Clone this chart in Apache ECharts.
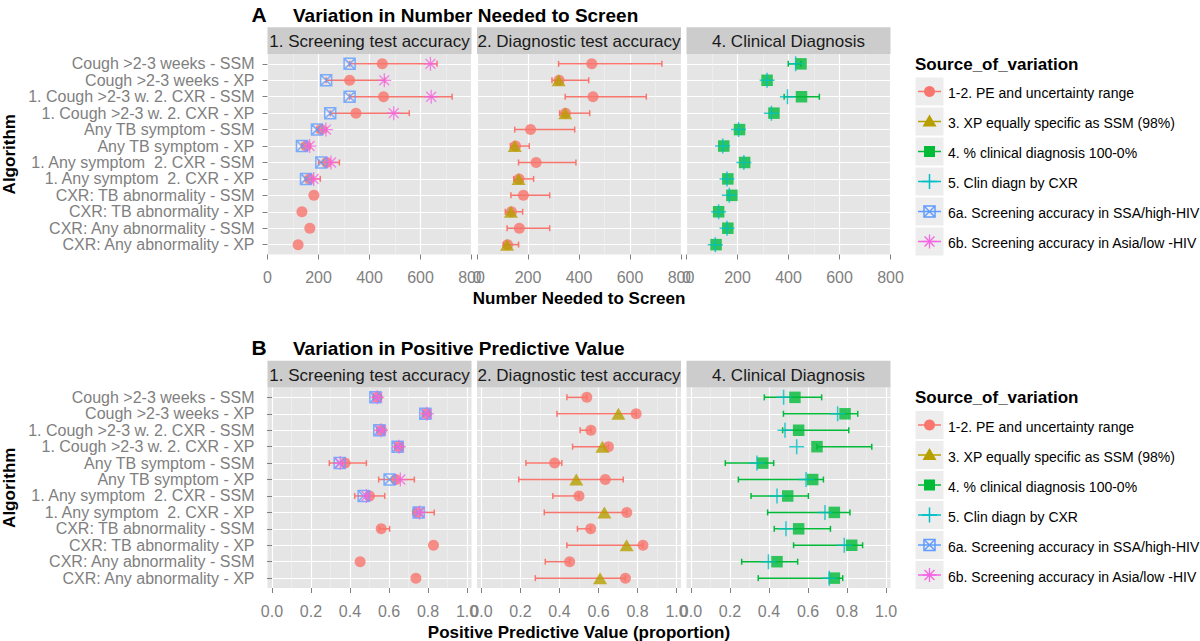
<!DOCTYPE html>
<html><head><meta charset="utf-8">
<script src="https://cdn.jsdelivr.net/npm/echarts@6/dist/echarts.min.js"></script>
<style>html,body{margin:0;padding:0;background:#fff}#c{width:1200px;height:641px}</style>
</head><body><div id="c"></div>
<script>
// ---------------- data ----------------
const algorithms = [
  'Cough >2-3 weeks - SSM', 'Cough >2-3 weeks - XP',
  '1. Cough >2-3 w. 2. CXR - SSM', '1. Cough >2-3 w. 2. CXR - XP',
  'Any TB symptom - SSM', 'Any TB symptom - XP',
  '1. Any symptom  2. CXR - SSM', '1. Any symptom  2. CXR - XP',
  'CXR: TB abnormality - SSM', 'CXR: TB abnormality - XP',
  'CXR: Any abnormality - SSM', 'CXR: Any abnormality - XP'
];
const facetNames = ['1. Screening test accuracy', '2. Diagnostic test accuracy', '4. Clinical Diagnosis'];
const sources = [
  '1-2. PE and uncertainty range',
  '3. XP equally specific as SSM (98%)',
  '4. % clinical diagnosis 100-0%',
  '5. Clin diagn by CXR',
  '6a. Screening accuracy in SSA/high-HIV',
  '6b. Screening accuracy in Asia/low -HIV'
];
const nnsTicks = [0, 200, 400, 600, 800];
const nnsMinor = [100, 300, 500, 700];
const ppvTicks = [0, 0.2, 0.4, 0.6, 0.8, 1.0];
const ppvMinor = [0.1, 0.3, 0.5, 0.7, 0.9];

// Panel A: Number needed to screen
const nnsPE         = [450, 322, 455, 347, 210, 151, 232, 165, 182, 135, 166, 120];
const nnsScreenLow  = [322, 230, 322, 246, 194, 135, 200, 150, null, null, null, null];
const nnsScreenHigh = [665, 460, 724, 556, 232, 168, 282, 207, null, null, null, null];
const nnsSSA        = [322, 230, 322, 246, 194, 135, 211, 151, null, null, null, null];
const nnsAsia       = [639, 458, 642, 495, 229, 165, 249, 181, null, null, null, null];
const nnsDiagLow    = [320, 294, 346, 324, 148, 131, 163, 144, 133, 111, 118, 104];
const nnsDiagHigh   = [725, 438, 664, 442, 383, 205, 388, 222, 285, 179, 285, 163];
const nnsXPspec     = [null, 320, null, 346, null, 148, null, 163, null, 133, null, 118];
const nnsClin       = [449, 316, 451, 343, 208, 146, 228, 162, 178, 126, 162, 116];
const nnsClinLow    = [399, null, 383, null, null, null, null, null, null, null, null, null];
const nnsClinHigh   = [449, null, 521, null, null, null, null, null, null, null, null, null];
const nnsClinCXR    = [428, 316, 396, 333, 204, 142, 225, 159, 168, 126, 159, 113];

// Panel B: Positive predictive value
const ppvPE         = [0.54, 0.793, 0.561, 0.651, 0.375, 0.635, 0.50, 0.745, 0.56, 0.828, 0.452, 0.738];
const ppvScreenLow  = [0.52, 0.775, 0.54, 0.63, 0.294, 0.547, 0.424, 0.726, 0.55, null, null, null];
const ppvScreenHigh = [0.56, 0.81, 0.575, 0.665, 0.484, 0.73, 0.578, 0.832, 0.603, null, null, null];
const ppvSSA        = [0.53, 0.786, 0.55, 0.644, 0.347, 0.603, 0.47, 0.752, null, null, null, null];
const ppvAsia       = [0.54, 0.795, 0.559, 0.651, 0.35, 0.658, 0.484, 0.757, null, null, null, null];
const ppvDiagLow    = [0.438, 0.387, 0.506, 0.467, 0.228, 0.191, 0.366, 0.322, 0.492, 0.438, 0.327, 0.276];
const ppvDiagHigh   = [0.54, 0.793, 0.561, 0.651, 0.412, 0.727, 0.50, 0.745, 0.56, 0.828, 0.452, 0.738];
const ppvXPspec     = [null, 0.702, null, 0.62, null, 0.486, null, 0.63, null, 0.744, null, 0.608];
const ppvClin       = [0.533, 0.79, 0.552, 0.646, 0.368, 0.624, 0.496, 0.735, 0.552, 0.824, 0.441, 0.735];
const ppvClinLow    = [0.376, 0.474, 0.47, 0.646, 0.176, 0.243, 0.308, 0.393, 0.427, 0.526, 0.26, 0.345];
const ppvClinHigh   = [0.67, 0.855, 0.809, 0.927, 0.424, 0.679, 0.602, 0.815, 0.715, 0.88, 0.547, 0.778];
const ppvClinCXR    = [0.475, 0.752, 0.482, 0.542, 0.338, 0.59, 0.441, 0.687, 0.487, 0.786, 0.397, 0.709];

// ---------------- styles / layout ----------------
const COL = ['#F8766D', '#B79F00', '#00BA38', '#00BFC4', '#619CFF', '#F564E3'];
const FONT = 'Liberation Sans, Arial, Helvetica, sans-serif';
const facetLeft = [267.5, 477, 686.5];
const facetW = 204;
const panelTop = [54, 387.5];
const panelH = 200.5;
const stripH = 26.7;
const rowsIdx = algorithms.map((_, i) => i + 1);

const P_PLUS = 'path://M1,0L1,2M0,1L2,1';
const P_SQX = 'path://M0,0L2,0L2,2L0,2ZM0,0L2,2M2,0L0,2';
const P_STAR = 'path://M1,0L1,2M0,1L2,1M0.293,0.293L1.707,1.707M1.707,0.293L0.293,1.707';
const SYM = [
  {symbol: 'circle', symbolSize: 11, itemStyle: {color: COL[0]}},
  {symbol: 'triangle', symbolSize: [14, 12], itemStyle: {color: COL[1]}},
  {symbol: 'rect', symbolSize: 11.5, itemStyle: {color: COL[2]}},
  {symbol: P_PLUS, symbolSize: 15, itemStyle: {color: 'rgba(0,0,0,0)', borderColor: COL[3], borderWidth: 1.5}},
  {symbol: P_SQX, symbolSize: 11, itemStyle: {color: 'rgba(0,0,0,0)', borderColor: COL[4], borderWidth: 1.5}},
  {symbol: P_STAR, symbolSize: 14, itemStyle: {color: 'rgba(0,0,0,0)', borderColor: COL[5], borderWidth: 1.3}}
];

const scales = [
  {min: 0, max: 800, major: nnsTicks, minor: nnsMinor, fmt: v => String(v)},
  {min: -0.023, max: 1.023, major: ppvTicks, minor: ppvMinor, fmt: v => Number(v).toFixed(1)}
];

const panels = [
  [
    {err: [nnsScreenLow, nnsScreenHigh, COL[0]], pts: [[nnsPE, 0], [nnsSSA, 4], [nnsAsia, 5]]},
    {err: [nnsDiagLow, nnsDiagHigh, COL[0]], pts: [[nnsPE, 0], [nnsXPspec, 1]]},
    {err: [nnsClinLow, nnsClinHigh, COL[2]], pts: [[nnsClin, 2], [nnsClinCXR, 3]]}
  ],
  [
    {err: [ppvScreenLow, ppvScreenHigh, COL[0]], pts: [[ppvPE, 0], [ppvSSA, 4], [ppvAsia, 5]]},
    {err: [ppvDiagLow, ppvDiagHigh, COL[0]], pts: [[ppvPE, 0], [ppvXPspec, 1]]},
    {err: [ppvClinLow, ppvClinHigh, COL[2]], pts: [[ppvClin, 2], [ppvClinCXR, 3]]}
  ]
];

function errRender(color) {
  return function (params, api) {
    const y = api.value(0), lo = api.value(1), hi = api.value(2);
    const a = api.coord([lo, y]), b = api.coord([hi, y]);
    const h = 3, st = {stroke: color, lineWidth: 1.5};
    return {type: 'group', children: [
      {type: 'line', shape: {x1: a[0], y1: a[1], x2: b[0], y2: b[1]}, style: st},
      {type: 'line', shape: {x1: a[0], y1: a[1] - h, x2: a[0], y2: a[1] + h}, style: st},
      {type: 'line', shape: {x1: b[0], y1: b[1] - h, x2: b[0], y2: b[1] + h}, style: st}
    ]};
  };
}

const grids = [], xAxes = [], yAxes = [], series = [];
panels.forEach((facets, p) => {
  const sc = scales[p];
  facets.forEach((fd, f) => {
    const gi = grids.length;
    grids.push({left: facetLeft[f], top: panelTop[p], width: facetW, height: panelH,
      show: true, backgroundColor: '#E5E5E5', borderWidth: 0, containLabel: false, outerBoundsMode: 'none'});
    // minor grid axis
    xAxes.push({type: 'value', gridIndex: gi, position: 'bottom', min: sc.min, max: sc.max,
      axisLine: {show: false}, axisTick: {show: false, customValues: sc.minor},
      axisLabel: {show: false, customValues: sc.minor},
      splitLine: {show: true, lineStyle: {color: '#F2F2F2', width: 0.6}}});
    const xi = xAxes.length;
    xAxes.push({type: 'value', gridIndex: gi, position: 'bottom', min: sc.min, max: sc.max,
      axisLine: {show: false},
      axisTick: {show: true, length: 5, lineStyle: {color: '#7F7F7F', width: 1}, customValues: sc.major},
      axisLabel: {show: true, customValues: sc.major, formatter: sc.fmt, color: '#7F7F7F', fontSize: 16, margin: 15, fontFamily: FONT},
      splitLine: {show: true, lineStyle: {color: '#FFFFFF', width: 1.2}}});
    const yi = yAxes.length;
    yAxes.push({type: 'value', gridIndex: gi, inverse: true, min: 0.4, max: 12.6,
      axisLine: {show: false},
      axisTick: {show: f === 0, length: 5, lineStyle: {color: '#7F7F7F', width: 1}, customValues: rowsIdx},
      axisLabel: {show: f === 0, customValues: rowsIdx, formatter: v => algorithms[Math.round(v) - 1],
        color: '#7F7F7F', fontSize: 16, margin: 13, fontFamily: FONT},
      splitLine: {show: true, lineStyle: {color: '#FFFFFF', width: 1.2}}});
    // error bars
    const [lo, hi, ec] = fd.err;
    const edata = [];
    lo.forEach((v, i) => { if (v != null && hi[i] != null) edata.push([i + 1, v, hi[i]]); });
    series.push({type: 'custom', name: ec === COL[0] ? sources[0] : sources[2], xAxisIndex: xi, yAxisIndex: yi,
      dimensions: ['row', 'low', 'high'], encode: {x: [1, 2], y: 0},
      renderItem: errRender(ec), data: edata, z: 1, silent: true, clip: false});
    // points
    fd.pts.forEach(([arr, s], k) => {
      const d = [];
      arr.forEach((v, i) => { if (v != null) d.push([v, i + 1]); });
      series.push(Object.assign({type: 'scatter', name: sources[s], xAxisIndex: xi, yAxisIndex: yi,
        data: d, z: 2 + k, silent: true, animation: false}, JSON.parse(JSON.stringify(SYM[s]))));
    });
  });
});

// ---------------- text & legend graphics ----------------
const g = [];
function txt(x, y, text, o) {
  o = o || {};
  const el = {type: 'text', x: x, y: y, silent: true, style: {
    text: text, fill: o.fill || '#000', fontSize: o.size || 16, fontWeight: o.bold ? 'bold' : 'normal',
    fontFamily: FONT, align: o.align || 'left', textAlign: o.align || 'left',
    verticalAlign: 'middle', textVerticalAlign: 'middle'}};
  if (o.rot) el.rotation = o.rot;
  return el;
}
const panelTitles = ['Variation in Number Needed to Screen', 'Variation in Positive Predictive Value'];
const panelLetters = ['A', 'B'];
const axisTitles = ['Number Needed to Screen', 'Positive Predictive Value (proportion)'];
[0, 1].forEach(p => {
  const off = panelTop[p] - panelTop[0];
  g.push(txt(251.5, 14 + off, panelLetters[p], {size: 21, bold: true}));
  g.push(txt(293, 15 + off, panelTitles[p], {size: 19, bold: true}));
  facetLeft.forEach((fl, f) => {
    g.push({type: 'rect', silent: true, shape: {x: fl, y: panelTop[p] - stripH, width: facetW, height: stripH}, style: {fill: '#CCCCCC'}});
    g.push(txt(fl + facetW / 2, panelTop[p] - stripH / 2 + 1, facetNames[f], {size: 17, align: 'center', fill: '#1A1A1A'}));
  });
  g.push(txt(579, panelTop[p] + panelH + 44, axisTitles[p], {size: 17, bold: true, align: 'center'}));
  g.push(txt(9, panelTop[p] + panelH / 2, 'Algorithm', {size: 17, bold: true, align: 'center', rot: Math.PI / 2}));
  // legend
  g.push(txt(915, 64 + off, 'Source_of_variation', {size: 17, bold: true}));
  sources.forEach((s, i) => {
    const cy = 91.5 + 30 * i + off, cx = 929.5, c = COL[i];
    g.push({type: 'rect', silent: true, shape: {x: 915.5, y: cy - 14, width: 28, height: 28}, style: {fill: '#EDEDED'}});
    g.push({type: 'line', silent: true, shape: {x1: 918, y1: cy, x2: 941, y2: cy}, style: {stroke: c, lineWidth: 1.5}});
    const st = {stroke: c, lineWidth: 1.5, fill: 'none'};
    if (i === 0) g.push({type: 'circle', silent: true, shape: {cx: cx, cy: cy, r: 5.5}, style: {fill: c}});
    if (i === 1) g.push({type: 'polygon', silent: true, shape: {points: [[cx - 7, cy + 5], [cx + 7, cy + 5], [cx, cy - 7]]}, style: {fill: c}});
    if (i === 2) g.push({type: 'rect', silent: true, shape: {x: cx - 5.5, y: cy - 5.5, width: 11, height: 11}, style: {fill: c}});
    if (i === 3) {
      g.push({type: 'line', silent: true, shape: {x1: cx, y1: cy - 7.5, x2: cx, y2: cy + 7.5}, style: st});
      g.push({type: 'line', silent: true, shape: {x1: cx - 7.5, y1: cy, x2: cx + 7.5, y2: cy}, style: st});
    }
    if (i === 4) {
      g.push({type: 'rect', silent: true, shape: {x: cx - 5.5, y: cy - 5.5, width: 11, height: 11}, style: st});
      g.push({type: 'line', silent: true, shape: {x1: cx - 5.5, y1: cy - 5.5, x2: cx + 5.5, y2: cy + 5.5}, style: st});
      g.push({type: 'line', silent: true, shape: {x1: cx + 5.5, y1: cy - 5.5, x2: cx - 5.5, y2: cy + 5.5}, style: st});
    }
    if (i === 5) {
      const r = 7, d = 4.95;
      [[0, -r, 0, r], [-r, 0, r, 0], [-d, -d, d, d], [d, -d, -d, d]].forEach(q =>
        g.push({type: 'line', silent: true, shape: {x1: cx + q[0], y1: cy + q[1], x2: cx + q[2], y2: cy + q[3]}, style: {stroke: c, lineWidth: 1.3}}));
    }
    g.push(txt(948, cy + 1.5, s, {size: 14}));
  });
});

const chart = echarts.init(document.getElementById('c'), null, {renderer: 'svg', width: 1200, height: 641});
chart.setOption({
  animation: false,
  backgroundColor: '#FFFFFF',
  textStyle: {fontFamily: FONT},
  grid: grids,
  xAxis: xAxes,
  yAxis: yAxes,
  series: series,
  graphic: {elements: g}
});
</script>
</body></html>
